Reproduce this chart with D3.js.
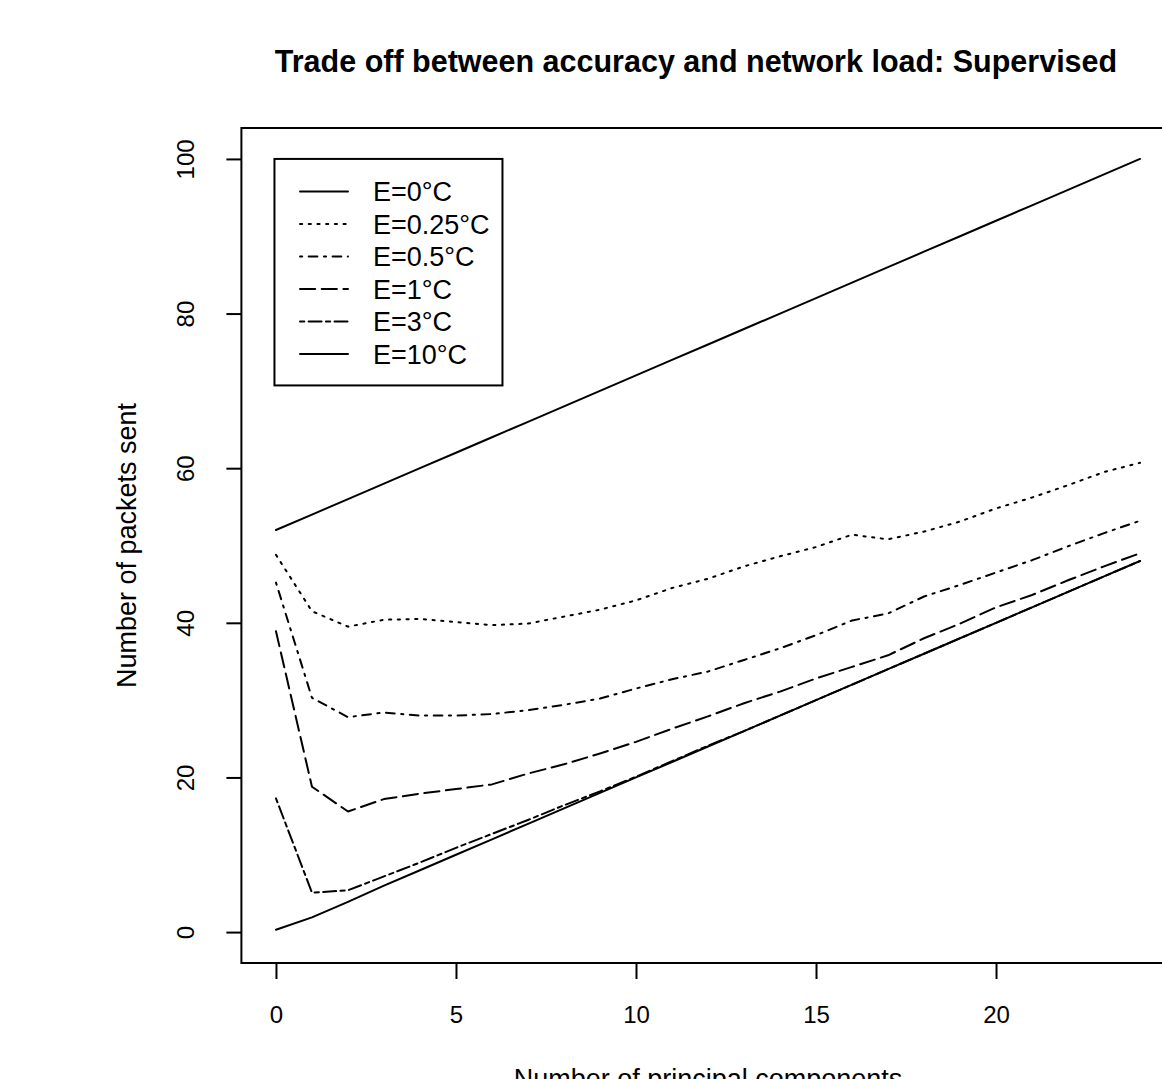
<!DOCTYPE html>
<html>
<head>
<meta charset="utf-8">
<script src="https://cdn.jsdelivr.net/npm/d3@7"></script>
<style>
  body { margin: 0; background: #fff; }
  svg { display: block; font-family: "Liberation Sans", Arial, Helvetica, sans-serif; }
</style>
</head>
<body>
<div id="chart"></div>
<script>
(function(){
'use strict';

// number of principal components (x)
var components = [0,1,2,3,4,5,6,7,8,9,10,11,12,13,14,15,16,17,18,19,20,21,22,23,24];

// packets sent, one list per error threshold
var e0   = [52,54,56,58,60,62,64,66,68,70,72,74,76,78,80,82,84,86,88,90,92,94,96,98,100];
var e025 = [48.8,41.5,39.5,40.4,40.5,40.1,39.7,39.9,40.8,41.7,42.9,44.5,45.7,47.3,48.6,49.8,51.4,50.8,51.8,53.1,54.8,56.2,57.8,59.5,60.7];
var e05  = [45.2,30.3,27.8,28.4,28.0,28.0,28.2,28.7,29.4,30.2,31.5,32.7,33.7,35.2,36.7,38.4,40.3,41.2,43.4,44.9,46.5,48.1,49.9,51.6,53.2];
var e1   = [38.9,18.8,15.6,17.2,17.9,18.5,19.1,20.5,21.7,23.1,24.6,26.3,27.9,29.6,31.1,32.8,34.3,35.8,38.0,39.9,42.0,43.6,45.5,47.3,49.0];
var e3   = [17.3,5.1,5.4,7.2,9.0,10.9,12.7,14.5,16.4,18.2,20.1,22.1,24.1,26.0,28.0,30.0,32.0,34.0,36.0,38.0,40.0,42.0,44.0,46.0,48.0];
var e10  = [0.3,1.9,3.9,6,8,10,12,14,16,18,20,22,24,26,28,30,32,34,36,38,40,42,44,46,48];

var seriesLabels = ["E=0°C", "E=0.25°C", "E=0.5°C", "E=1°C", "E=3°C", "E=10°C"];
var xTicks = [0, 5, 10, 15, 20];
var yTicks = [0, 20, 40, 60, 80, 100];

// R line types (lty 1,3,4,5,6,1) at this scale
var dashes = [null, "2.2 6.5", "2.2 6.5 8.7 6.5", "15.2 6.5", "4.3 4.3 13 4.3", null];

var W = 1162, H = 1079,
    left = 241.4, right = 1174.6, top = 128, bottom = 963;

var series = [e0, e025, e05, e1, e3, e10].map(function(vals, i) {
    return {label: seriesLabels[i], values: vals, dash: dashes[i]};
});

var svg = d3.select('#chart').append('svg')
    .attr('width', W).attr('height', H);

var x = d3.scaleLinear().domain([-0.96, 24.96]).range([left, right]);
var y = d3.scaleLinear().domain([-4, 104]).range([bottom, top]);

// title
svg.append('text')
    .attr('x', 696).attr('y', 72)
    .attr('text-anchor', 'middle')
    .attr('font-size', 30.5).attr('font-weight', 'bold')
    .text('Trade off between accuracy and network load: Supervised');

// lines
var line = d3.line()
    .x(function(d, i) { return x(components[i]); })
    .y(function(d) { return y(d); });

svg.append('g').selectAll('path')
    .data(series)
    .enter().append('path')
    .attr('d', function(d) { return line(d.values); })
    .attr('fill', 'none')
    .attr('stroke', '#000')
    .attr('stroke-width', 2)
    .attr('stroke-linecap', 'round')
    .attr('stroke-linejoin', 'round')
    .attr('stroke-dasharray', function(d) { return d.dash; });

// plot box
svg.append('rect')
    .attr('x', left).attr('y', top)
    .attr('width', right - left).attr('height', bottom - top)
    .attr('fill', 'none').attr('stroke', '#000').attr('stroke-width', 2);

// x axis
var gx = svg.append('g')
    .attr('transform', 'translate(0,' + bottom + ')')
    .call(d3.axisBottom(x).tickValues(xTicks).tickSize(16).tickSizeOuter(0).tickPadding(4));
gx.select('.domain').remove();
gx.selectAll('.tick line').attr('stroke-width', 2);
gx.selectAll('.tick text')
    .attr('font-size', 24).attr('font-family', null)
    .attr('fill', '#000')
    .attr('dy', null).attr('y', 60);

// y axis
var gy = svg.append('g')
    .attr('transform', 'translate(' + left + ',0)')
    .call(d3.axisLeft(y).tickValues(yTicks).tickSize(15).tickSizeOuter(0));
gy.select('.domain').remove();
gy.selectAll('.tick line').attr('stroke-width', 2);
gy.selectAll('.tick text')
    .attr('font-size', 24).attr('font-family', null)
    .attr('fill', '#000')
    .attr('x', null).attr('dy', null)
    .attr('text-anchor', 'middle')
    .attr('transform', 'translate(-47,0) rotate(-90)');

// axis titles
svg.append('text')
    .attr('x', 708).attr('y', 1088)
    .attr('text-anchor', 'middle').attr('font-size', 27)
    .text('Number of principal components');

svg.append('text')
    .attr('transform', 'translate(136,' + ((top + bottom) / 2) + ') rotate(-90)')
    .attr('text-anchor', 'middle').attr('font-size', 27)
    .text('Number of packets sent');

// legend
var lg = svg.append('g');
lg.append('rect')
    .attr('x', x(0) - 1.5).attr('y', y(100))
    .attr('width', 228).attr('height', 226.5)
    .attr('fill', '#fff').attr('stroke', '#000').attr('stroke-width', 2);

var rows = lg.selectAll('g.row')
    .data(series)
    .enter().append('g')
    .attr('class', 'row')
    .attr('transform', function(d, i) { return 'translate(0,' + (191.5 + i * 32.5) + ')'; });

rows.append('line')
    .attr('x1', 300).attr('x2', 348)
    .attr('stroke', '#000').attr('stroke-width', 2)
    .attr('stroke-linecap', 'round')
    .attr('stroke-dasharray', function(d) { return d.dash; });

rows.append('text')
    .attr('x', 373).attr('y', 9.5)
    .attr('font-size', 27)
    .text(function(d) { return d.label; });

})();
</script>
</body>
</html>
